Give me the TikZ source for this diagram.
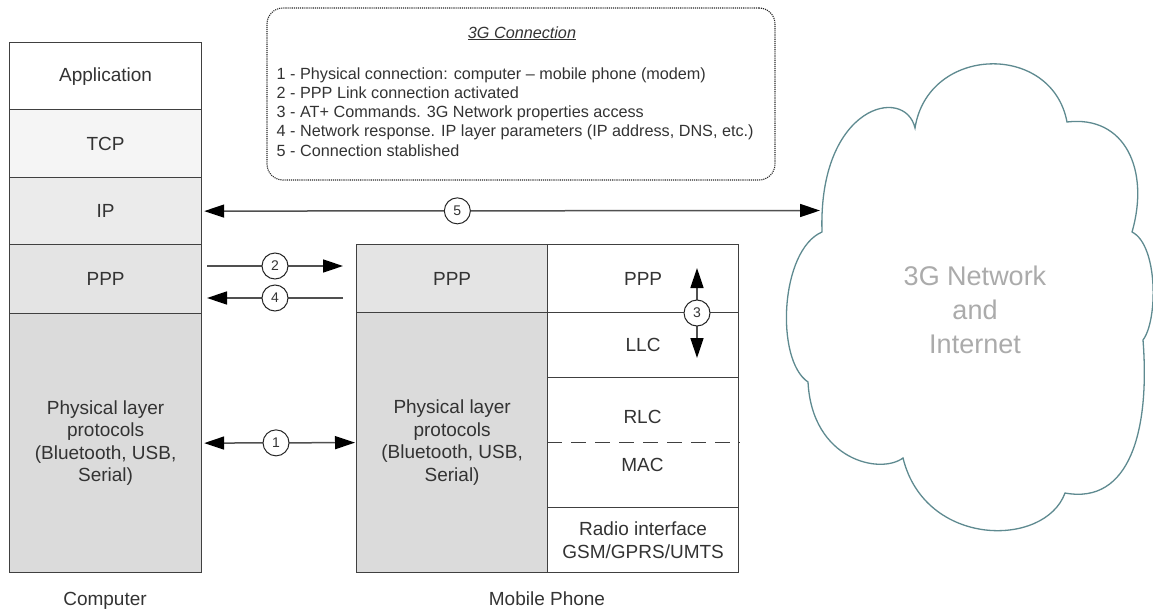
\documentclass[tikz,border=0pt]{standalone}
\usepackage{fontspec}
\setmainfont{Liberation Sans}
\usetikzlibrary{arrows.meta}

\definecolor{linec}{HTML}{404040}
\definecolor{txtc}{HTML}{333333}
\definecolor{arrc}{HTML}{505050}
\definecolor{cloudc}{HTML}{5E8A90}
\definecolor{cloudtxt}{HTML}{ABABAB}
\definecolor{fillA}{HTML}{F5F5F5}
\definecolor{fillB}{HTML}{EBEBEB}
\definecolor{fillC}{HTML}{E4E4E4}
\definecolor{fillD}{HTML}{DBDBDB}

\newcommand{\lblfont}{\fontsize{19}{22.5}\selectfont}
\newcommand{\listfont}{\fontsize{16.2}{19.2}\selectfont}

\tikzset{
  layer/.style={draw=linec, line width=1.2pt, anchor=north west, inner sep=0pt,
                text=txtc, font=\lblfont, align=center},
  plain/.style={text=txtc, font=\lblfont, align=center, inner sep=0pt},
  num/.style={circle, draw=black!85, fill=white, line width=1pt, minimum size=26pt,
              inner sep=0pt, text=txtc, font=\fontsize{14}{14}\selectfont},
  onearrow/.style={draw=arrc, line width=1.5pt,
                   -{Triangle[length=20pt,width=13pt,color=black]}},
  twoarrow/.style={draw=arrc, line width=1.5pt,
                   {Triangle[length=20pt,width=13pt,color=black]}-{Triangle[length=20pt,width=13pt,color=black]}},
  cloudline/.style={draw=cloudc, line width=1.3pt, fill=white},
  notebox/.style={draw=black!85, line width=1.1pt, densely dotted, rounded corners=16pt,
                  minimum width=508pt, minimum height=172pt, inner sep=0pt}
}

\begin{document}
\begin{tikzpicture}[x=1pt, y=-1pt]
\useasboundingbox (0,0) rectangle (1153,610);

% --- Computer protocol stack ---
\node[layer, fill=white, minimum width=192pt, minimum height=67pt] (app) at (9,42) {Application};
\node[layer, fill=fillA, minimum width=192pt, minimum height=68pt] (tcp) at (9,109) {TCP};
\node[layer, fill=fillB, minimum width=192pt, minimum height=67pt] (ip) at (9,177) {IP};
\node[layer, fill=fillC, minimum width=192pt, minimum height=69pt] (ppp) at (9,244) {PPP};
\node[layer, fill=fillD, minimum width=192pt, minimum height=259pt] (phy) at (9,313)
  {Physical layer\\protocols\\(Bluetooth, USB,\\Serial)};
\node[plain, anchor=base] (comp) at (105,605) {Computer};

% --- Mobile phone protocol stack ---
\node[layer, fill=fillC, minimum width=191pt, minimum height=68pt] (mppp) at (356,244) {PPP};
\node[layer, fill=fillD, minimum width=191pt, minimum height=260pt] (mphy) at (356,312)
  {Physical layer\\protocols\\(Bluetooth, USB,\\Serial)};
\node[layer, fill=white, minimum width=191pt, minimum height=68pt] (rppp) at (547,244) {PPP};
\node[layer, fill=white, minimum width=191pt, minimum height=65pt] (llc) at (547,312) {LLC};
\node[layer, fill=white, minimum width=191pt, minimum height=130pt] (rlcmac) at (547,377) {};
\node[layer, fill=white, minimum width=191pt, minimum height=65pt] (radio) at (547,507)
  {Radio interface\\GSM/GPRS/UMTS};
\draw[linec, line width=1.2pt, dash pattern=on 15pt off 9pt] (rlcmac.west) -- (rlcmac.east);
\node[plain] (rlc) at (642.5,417) {RLC};
\node[plain] (mac) at (642.5,465) {MAC};
\node[plain, anchor=base] (mob) at (547,605) {Mobile Phone};

% --- 3G network cloud ---
\draw[cloudline] (822,232)
  .. controls (818,105) and (905,85) .. (915,128)
  .. controls (928,45) and (1052,42) .. (1067,122)
  .. controls (1125,115) and (1150,170) .. (1132,232)
  .. controls (1158,245) and (1158,320) .. (1143,340)
  .. controls (1150,430) and (1130,505) .. (1065,493)
  .. controls (1045,548) and (925,548) .. (903,458)
  .. controls (880,475) and (812,460) .. (808,382)
  .. controls (775,360) and (780,250) .. cycle;
% the base anchor of a multi-line node sits on its last line
\node[text=cloudtxt, font=\fontsize{27}{34}\selectfont, align=center, inner sep=0pt,
      anchor=base] (net) at (975,353) {3G Network\\and\\Internet};
\coordinate (cloudin) at (820,210.5);

% --- Legend box ---
\node[notebox] (conn) at (521,94) {};
\node[text=txtc, font=\listfont\itshape, inner sep=0pt, anchor=base] (title) at (522,38)
  {\underline{3G Connection}};
\node[text=txtc, font=\listfont, align=left, inner sep=0pt, anchor=base west] (steps) at (276.5,156)
  {1 - Physical connection: computer -- mobile phone (modem)\\
   2 - PPP Link connection activated\\
   3 - AT+ Commands. 3G Network properties access\\
   4 - Network response. IP layer parameters (IP address, DNS, etc.)\\
   5 - Connection stablished};

% --- Connection steps ---
\coordinate (s2a) at (207,266);
\coordinate (s2b) at (343,266);
\coordinate (s4a) at (343,298);
\coordinate (s4b) at (207,298);
\coordinate (s3a) at (697,268);
\coordinate (s3b) at (697,358);

\draw[twoarrow, shorten <=2pt] (ip.east) -- node[num, pos=0.413] {5} (cloudin);
\draw[onearrow] (s2a) -- node[num, pos=0.5] {2} (s2b);
\draw[onearrow] (s4a) -- node[num, pos=0.5] {4} (s4b);
\draw[twoarrow, shorten <=2pt, shorten >=1pt] (phy.east) -- node[num, pos=0.48] {1} (mphy.west);
\draw[twoarrow] (s3a) -- node[num, pos=0.5] {3} (s3b);
\end{tikzpicture}
\end{document}
